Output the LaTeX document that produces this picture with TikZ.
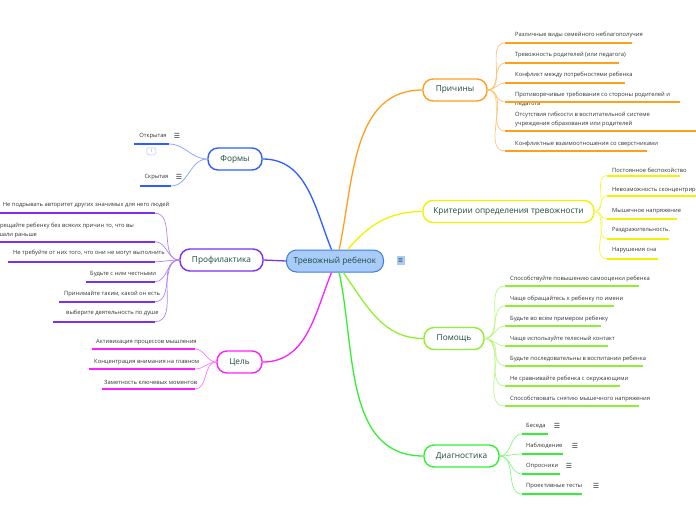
\documentclass[tikz,border=0pt]{standalone}
\usepackage{fontspec}
\setmainfont{Open Sans}
\newfontfamily\symfont{DejaVu Sans}

\definecolor{rootfill}{HTML}{A8CBFA}
\definecolor{rootdraw}{HTML}{3B7DDD}
\definecolor{topictext}{HTML}{1C4B3C}
\definecolor{leaftext}{HTML}{333333}
\definecolor{whycol}{HTML}{FF9F1C}
\definecolor{critcol}{HTML}{F2F200}
\definecolor{helpcol}{HTML}{8EF02E}
\definecolor{diagcol}{HTML}{33F033}
\definecolor{formcol}{HTML}{2E5EFF}
\definecolor{profcol}{HTML}{7B2FF2}
\definecolor{goalcol}{HTML}{FF1EFF}

\tikzset{
  topic/.style={draw, rounded corners=10pt, line width=1.4pt, fill=white, text=topictext,
    minimum height=22pt, inner sep=2pt, font=\fontsize{8.3}{10}\selectfont},
  rootbox/.style={topic, fill=rootfill, draw=rootdraw, line width=1pt},
  leaf/.style={anchor=west, inner sep=0pt, text=leaftext, align=left, font=\fontsize{5.8}{8.6}\selectfont},
  menu/.style={inner sep=0pt, text=leaftext, font=\symfont\fontsize{7}{8}\selectfont},
  uline/.style={line width=1.8pt},
  twig/.style={line width=0.7pt},
  branch/.style={line width=1.3pt}
}

\begin{document}
\begin{tikzpicture}[x=1pt,y=-1pt]
\useasboundingbox (0,0) rectangle (696,520);

% центр и ветви
\node[rootbox, minimum width=97pt] (root) at (335,261) {Тревожный ребенок};
\node[menu, fill=rootfill, minimum width=8pt, minimum height=9pt, font=\symfont\fontsize{5.5}{6}\selectfont] (rootmenu) at (400.5,260) {☰};

\node[topic, draw=whycol, minimum width=64pt] (why) at (455,90) {Причины};
\node[topic, draw=critcol, minimum width=171pt] (crit) at (508.5,211.5) {Критерии определения тревожности};
\node[topic, draw=helpcol, minimum width=60pt] (help) at (454,338.5) {Помощь};
\node[topic, draw=diagcol, minimum width=75pt] (diag) at (461.5,456) {Диагностика};
\node[topic, draw=formcol, minimum width=54pt] (form) at (235,159) {Формы};
\node[topic, draw=profcol, minimum width=83pt] (prof) at (221.5,260) {Профилактика};
\node[topic, draw=goalcol, minimum width=45pt] (goal) at (239.5,362) {Цель};

\draw[branch, formcol] (root.107) to[out=112,in=0] (form.east);
\draw[branch, whycol] (root.70) to[out=78,in=180] (why.west);
\draw[branch, critcol] (root.42) to[out=50,in=180] (crit.west);
\draw[branch, profcol] (root.west) -- (prof.east);
\draw[branch, goalcol] (root.-107) to[out=-112,in=0] (goal.east);
\draw[branch, diagcol] (root.-70) to[out=-78,in=180] (diag.west);
\draw[branch, helpcol] (root.-54) to[out=-55,in=180] (help.west);

% Причины
\node[leaf] (why1) at (515,35) {Различные виды семейного неблагополучия};
\node[leaf] (why2) at (515,55) {Тревожность родителей (или педагога)};
\node[leaf] (why3) at (515,75) {Конфликт между потребностями ребенка};
\node[leaf] (why4) at (515,99.5) {Противоречивые требования со стороны родителей и\\педагога};
\node[leaf] (why5) at (515,119.5) {Отсутствия гибкости в воспитательной системе\\учреждения образования или родителей};
\node[leaf] (why6) at (515,144) {Конфликтные взаимоотношения со сверстниками};
\draw[uline, whycol] (505,43) coordinate (why1a) -- (632,43);
\draw[uline, whycol] (505,63) coordinate (why2a) -- (619,63);
\draw[uline, whycol] (505,83) coordinate (why3a) -- (625,83);
\draw[uline, whycol] (505,102) coordinate (why4a) -- (680,102);
\draw[uline, whycol] (505,131) coordinate (why5a) -- (700,131);
\draw[uline, whycol] (505,151) coordinate (why6a) -- (647,151);
\draw[twig, whycol!60] (why.east) to[out=0,in=180] (why1a);
\draw[twig, whycol!60] (why.east) to[out=0,in=180] (why2a);
\draw[twig, whycol!60] (why.east) to[out=0,in=180] (why3a);
\draw[twig, whycol!60] (why.east) to[out=0,in=180] (why4a);
\draw[twig, whycol!60] (why.east) to[out=0,in=180] (why5a);
\draw[twig, whycol!60] (why.east) to[out=0,in=180] (why6a);

% Критерии
\node[leaf] (crit1) at (612,170.5) {Постоянное беспокойство};
\node[leaf] (crit2) at (612,190.5) {Невозможность сконцентрироваться};
\node[leaf] (crit3) at (612,211) {Мышечное напряжение};
\node[leaf] (crit4) at (612,230.5) {Раздражительность.};
\node[leaf] (crit5) at (612,250) {Нарушения сна};
\draw[uline, critcol] (607,175.7) coordinate (crit1a) -- (680,175.7);
\draw[uline, critcol] (607,195.7) coordinate (crit2a) -- (700,195.7);
\draw[uline, critcol] (607,219) coordinate (crit3a) -- (677,219);
\draw[uline, critcol] (607,238.7) coordinate (crit4a) -- (669,238.7);
\draw[uline, critcol] (607,258.7) coordinate (crit5a) -- (658,258.7);
\draw[twig, critcol!70] (crit.east) to[out=0,in=180] (crit1a);
\draw[twig, critcol!70] (crit.east) to[out=0,in=180] (crit2a);
\draw[twig, critcol!70] (crit.east) to[out=0,in=180] (crit3a);
\draw[twig, critcol!70] (crit.east) to[out=0,in=180] (crit4a);
\draw[twig, critcol!70] (crit.east) to[out=0,in=180] (crit5a);

% Помощь
\node[leaf] (help1) at (510,279) {Способствуйте повышению самооценки ребенка};
\node[leaf] (help2) at (510,298.7) {Чаще обращайтесь к ребенку по имени};
\node[leaf] (help3) at (510,318.7) {Будьте во всем примером ребенку};
\node[leaf] (help4) at (510,338.7) {Чаще используйте телесный контакт};
\node[leaf] (help5) at (510,358.7) {Будьте последовательны в воспитании ребенка};
\node[leaf] (help6) at (510,378.7) {Не сравнивайте ребенка с окружающими};
\node[leaf] (help7) at (510,398.7) {Способствовать снятию мышечного напряжения};
\draw[uline, helpcol] (505,286) coordinate (help1a) -- (639,286);
\draw[uline, helpcol] (505,306) coordinate (help2a) -- (614,306);
\draw[uline, helpcol] (505,326) coordinate (help3a) -- (601,326);
\draw[uline, helpcol] (505,346) coordinate (help4a) -- (608,346);
\draw[uline, helpcol] (505,366) coordinate (help5a) -- (643,366);
\draw[uline, helpcol] (505,386) coordinate (help6a) -- (620,386);
\draw[uline, helpcol] (505,406) coordinate (help7a) -- (639,406);
\draw[twig, helpcol!60] (help.east) to[out=0,in=180] (help1a);
\draw[twig, helpcol!60] (help.east) to[out=0,in=180] (help2a);
\draw[twig, helpcol!60] (help.east) to[out=0,in=180] (help3a);
\draw[twig, helpcol!60] (help.east) to[out=0,in=180] (help4a);
\draw[twig, helpcol!60] (help.east) to[out=0,in=180] (help5a);
\draw[twig, helpcol!60] (help.east) to[out=0,in=180] (help6a);
\draw[twig, helpcol!60] (help.east) to[out=0,in=180] (help7a);

% Диагностика
\node[leaf] (diag1) at (526,425.7) {Беседа};
\node[leaf] (diag2) at (526,445.7) {Наблюдение};
\node[leaf] (diag3) at (526,465.7) {Опросники};
\node[leaf] (diag4) at (526,485.7) {Проективные тесты};
\node[menu] (diag1m) at (557,425.7) {☰};
\node[menu] (diag2m) at (575,445.7) {☰};
\node[menu] (diag3m) at (569,465.7) {☰};
\node[menu] (diag4m) at (596,485.7) {☰};
\draw[uline, diagcol] (522,434) coordinate (diag1a) -- (548,434);
\draw[uline, diagcol] (522,454) coordinate (diag2a) -- (563,454);
\draw[uline, diagcol] (522,474) coordinate (diag3a) -- (560,474);
\draw[uline, diagcol] (522,494) coordinate (diag4a) -- (582,494);
\draw[twig, diagcol!60] (diag.east) to[out=0,in=180] (diag1a);
\draw[twig, diagcol!60] (diag.east) to[out=0,in=180] (diag2a);
\draw[twig, diagcol!60] (diag.east) to[out=0,in=180] (diag3a);
\draw[twig, diagcol!60] (diag.east) to[out=0,in=180] (diag4a);

% Формы
\node[leaf, anchor=center] (form1) at (153,136) {Открытая};
\node[leaf, anchor=center] (form2) at (156.5,177) {Скрытая};
\node[menu] (form1m) at (177,136) {☰};
\node[menu] (form2m) at (179,177) {☰};
\node[draw=formcol!40, rounded corners=1.5pt, minimum width=9pt, minimum height=7pt, inner sep=0pt,
  text=formcol!70, font=\fontsize{4.5}{5}\selectfont] (form1n) at (151.3,151.3) {1};
\draw[uline, formcol] (134,144) -- (169,144) coordinate (form1a);
\draw[uline, formcol] (140,186) -- (171,186) coordinate (form2a);
\draw[twig, formcol!60] (form.west) to[out=180,in=0] (form1a);
\draw[twig, formcol!60] (form.west) to[out=180,in=0] (form2a);

% Профилактика
\node[leaf] (prof1) at (2.7,205) {Не подрывать авторитет других значимых для него людей};
\node[leaf, anchor=east] (prof2) at (134,230.5) {Не запрещайте ребенку без всяких причин то, что вы\\разрешали раньше};
\node[leaf] (prof3) at (13,253.3) {Не требуйте от них того, что они не могут выполнить};
\node[leaf] (prof4) at (90,274) {Будьте с ним честными};
\node[leaf] (prof5) at (64,294) {Принимайте таким, какой он есть};
\node[leaf] (prof6) at (66,313.3) {выберите  деятельность по душе};
\draw[uline, profcol] (-5,213.3) -- (155,213.3) coordinate (prof1a);
\draw[uline, profcol] (-5,241.7) -- (155,241.7) coordinate (prof2a);
\draw[uline, profcol] (8,261.7) -- (155,261.7) coordinate (prof3a);
\draw[uline, profcol] (86,281.7) -- (155,281.7) coordinate (prof4a);
\draw[uline, profcol] (59,301.7) -- (155,301.7) coordinate (prof5a);
\draw[uline, profcol] (53,321.7) -- (155,321.7) coordinate (prof6a);
\draw[twig, profcol!60] (prof.west) to[out=180,in=0] (prof1a);
\draw[twig, profcol!60] (prof.west) to[out=180,in=0] (prof2a);
\draw[twig, profcol!60] (prof.west) to[out=180,in=0] (prof3a);
\draw[twig, profcol!60] (prof.west) to[out=180,in=0] (prof4a);
\draw[twig, profcol!60] (prof.west) to[out=180,in=0] (prof5a);
\draw[twig, profcol!60] (prof.west) to[out=180,in=0] (prof6a);

% Цель
\node[leaf] (goal1) at (96,341.7) {Активизация процессов мышления};
\node[leaf] (goal2) at (94,361.7) {Концентрация внимания на главном};
\node[leaf] (goal3) at (104,382.3) {Заметность ключевых моментов};
\draw[uline, goalcol] (92,349) -- (195,349) coordinate (goal1a);
\draw[uline, goalcol] (89,369) -- (195,369) coordinate (goal2a);
\draw[uline, goalcol] (102,389) -- (195,389) coordinate (goal3a);
\draw[twig, goalcol!60] (goal.west) to[out=180,in=0] (goal1a);
\draw[twig, goalcol!60] (goal.west) to[out=180,in=0] (goal2a);
\draw[twig, goalcol!60] (goal.west) to[out=180,in=0] (goal3a);
\end{tikzpicture}
\end{document}
